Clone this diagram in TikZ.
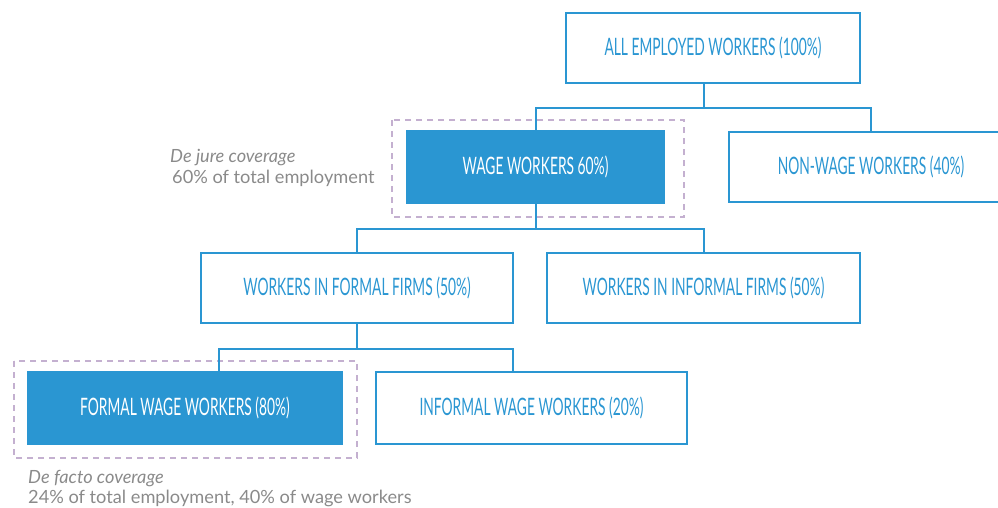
\documentclass[tikz,border=0pt]{standalone}
\usepackage{fontspec}
\setmainfont{Lato}
\newfontfamily\boxfont[FakeStretch=0.575]{Lato}
\usetikzlibrary{positioning,calc}
\definecolor{wbblue}{HTML}{2A96D2}
\definecolor{framelilac}{HTML}{C4B0D0}
\definecolor{notegray}{HTML}{8A8A8A}

\begin{document}
\begin{tikzpicture}[
  x=1pt, y=-1pt,
  level/.style={draw=wbblue, line width=2pt, text=wbblue, minimum height=70pt,
    font=\boxfont\fontsize{24}{27}\selectfont, inner sep=0pt},
  filled/.style={level, fill=wbblue, text=white},
  link/.style={draw=wbblue, line width=2pt},
  frame/.style={draw=framelilac, line width=1.6pt, dash pattern=on 6pt off 5pt},
  note/.style={text=notegray, font=\fontsize{18.2}{21}\selectfont, inner sep=0pt, anchor=base west}
]
\clip (0,0) rectangle (998,508);

\node[level, minimum width=294pt] (all) at (713,48) {ALL EMPLOYED WORKERS (100\%)};
\node[filled, minimum width=257pt, minimum height=72pt] (wage) at (535.5,167) {WAGE WORKERS 60\%)};
\node[level, minimum width=284pt] (nonwage) at (871,167) {NON-WAGE WORKERS (40\%)};
\node[level, minimum width=312pt] (ffirms) at (357,288) {WORKERS IN FORMAL FIRMS (50\%)};
\node[level, minimum width=313pt] (ifirms) at (703.5,288) {WORKERS IN INFORMAL FIRMS (50\%)};
\node[filled, minimum width=314pt, minimum height=72pt] (fwage) at (185,408) {FORMAL WAGE WORKERS (80\%)};
\node[level, minimum width=311pt, minimum height=72pt] (iwage) at (531.5,408) {INFORMAL WAGE WORKERS (20\%)};

% coverage frames
\draw[frame] ([xshift=-14pt,yshift=10pt]wage.north west) rectangle ([xshift=19pt,yshift=-13pt]wage.south east);
\draw[frame] ([xshift=-13pt,yshift=10pt]fwage.north west) rectangle ([xshift=14pt,yshift=-13pt]fwage.south east);

\node[note] (jure) at (170,162) {\itshape De jure coverage};
\node[note] (jurepct) at (172,183) {60\% of total employment};
\node[note] (facto) at (28,483) {\itshape De facto coverage};
\node[note] (factopct) at (28,503) {24\% of total employment, 40\% of wage workers};

% tree links
\draw[link] ([xshift=-9pt]all.south) -- ++(0,24) coordinate (j1);
\draw[link] (wage.north) |- (j1) -| (nonwage.north);
\draw[link] (wage.south) -- ++(0,25) coordinate (j2);
\draw[link] (ffirms.north) |- (j2) -| (ifirms.north);
\draw[link] (ffirms.south) -- ++(0,25) coordinate (j3);
\draw[link] ([xshift=34pt]fwage.north) |- (j3) -| ([xshift=-18.5pt]iwage.north);
\end{tikzpicture}
\end{document}
